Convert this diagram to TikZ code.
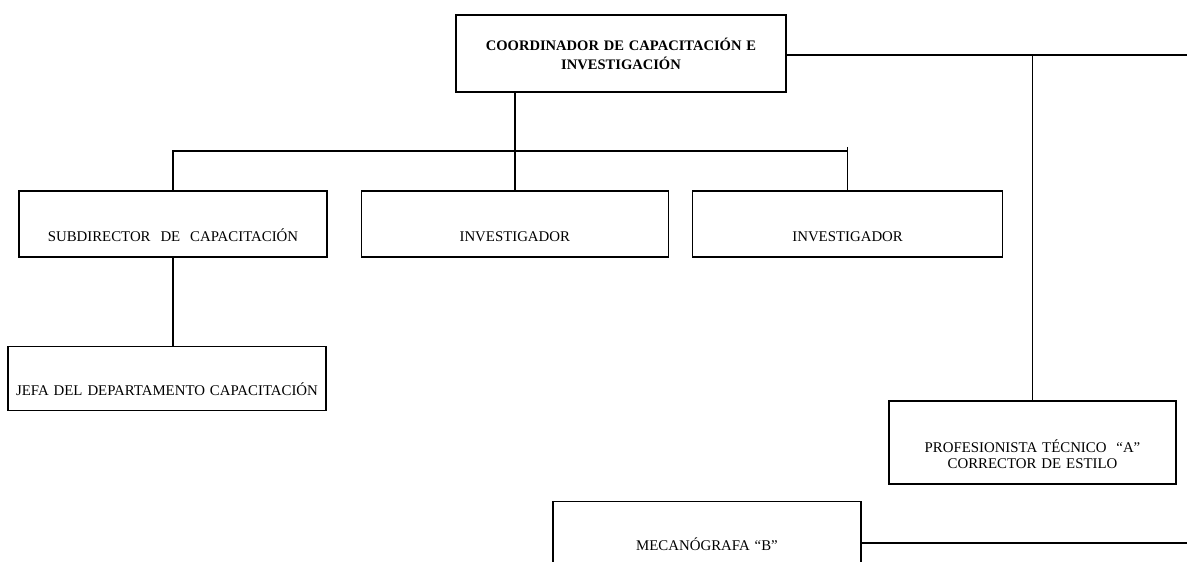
\documentclass[tikz,border=0pt]{standalone}
\usepackage{fontspec}
\setmainfont{Liberation Serif}
\usetikzlibrary{positioning}

\begin{document}
\begin{tikzpicture}[
    x=1bp, y=-1bp,
    post/.style n args={3}{rectangle, draw=black, line width=1.3bp, inner sep=0pt, text width=#1, text height=#2, text depth=#3, align=center, font=\fontsize{14.9pt}{17pt}\selectfont},
    link/.style={line width=1.3bp}
]
\useasboundingbox (0,0) rectangle (1187,562);

% Top post
\node[post={330bp}{36bp}{41bp}, font=\fontsize{14.6pt}{19pt}\selectfont\bfseries] (coord) at (621,53.5) {COORDINADOR DE CAPACITACIÓN E\\ INVESTIGACIÓN};

% Second row
\node[post={308bp}{51bp}{15bp}] (sub) at (173,224) {SUBDIRECTOR~ DE~ CAPACITACIÓN};
\node[post={307bp}{51bp}{15bp}, right=33bp of sub] (inv1) {INVESTIGADOR};
\node[post={310bp}{51bp}{15bp}, right=23bp of inv1] (inv2) {INVESTIGADOR};

% Lower posts
\node[post={318bp}{49bp}{15bp}, below=88bp of sub, xshift=-6bp] (jefa) {JEFA DEL DEPARTAMENTO CAPACITACIÓN};
\node[post={287bp}{51bp}{32bp}] (prof) at (1032.5,442.5) {PROFESIONISTA TÉCNICO~ “A”\\ CORRECTOR DE ESTILO};
\node[post={308bp}{49bp}{20bp}, anchor=north] (meca) at (707,501) {MECANÓGRAFA “B”};

% Connectors
\coordinate (topend) at (1187,55);
\coordinate (bus) at (515,151);
\coordinate (botend) at (1187,543);

\draw[link] (coord.east |- topend) -- (topend);
\draw[link] (prof.north) -- (prof.north |- topend);
\draw[link] (coord.south -| bus) -- (bus |- inv1.north);
\draw[link] (sub.north) -- (sub.north |- bus) -- (inv2.north |- bus);
\draw[link] ([yshift=4bp]inv2.north |- bus) -- (inv2.north);
\draw[link] (sub.south) -- (sub.south |- jefa.north);
\draw[link] (meca.east |- botend) -- (botend);

\end{tikzpicture}
\end{document}
